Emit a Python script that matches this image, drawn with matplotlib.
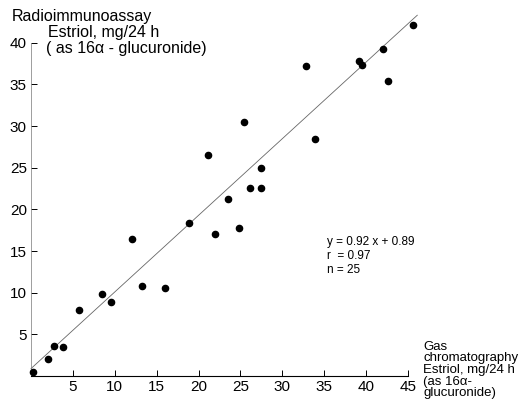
import numpy as np
import matplotlib
matplotlib.use("Agg")
import matplotlib.pyplot as plt

plt.rcParams['font.family'] = ['Liberation Sans', 'DejaVu Sans']

# gas chromatography (x) vs radioimmunoassay (y), mg/24 h
gc_values = [0.2, 2.0, 2.8, 3.8, 5.7, 8.5, 9.6, 12.0, 13.3, 16.0, 18.9, 21.9, 24.8,
             21.1, 25.4, 23.5, 26.1, 27.4, 27.5, 32.8, 33.9, 39.2, 39.5, 42.0, 42.6, 45.6]
ria_values = [0.5, 2.0, 3.6, 3.5, 7.9, 9.9, 8.9, 16.4, 10.8, 10.6, 18.4, 17.0, 17.8,
              26.5, 30.5, 21.3, 22.6, 22.6, 25.0, 37.2, 28.4, 37.8, 37.3, 39.3, 35.4, 42.1]
slope, intercept = 0.92, 0.89
x_ticks = [5, 10, 15, 20, 25, 30, 35, 40, 45]
y_ticks = [5, 10, 15, 20, 25, 30, 35, 40]

fig = plt.figure(figsize=(5.23, 4.03), dpi=100)
ax = fig.add_axes([0.0593, 0.067, 0.753, 0.889])

# regression line
fit_x = np.array([0, 46.1])
ax.plot(fit_x, slope * fit_x + intercept, color='#666666', lw=0.6, clip_on=False)

ax.scatter(gc_values, ria_values, s=20, color='black', zorder=3, clip_on=False)

ax.set_xlim(0, 47)
ax.set_ylim(0, 43)
ax.set_xticks(x_ticks)
ax.set_yticks(y_ticks)
ax.tick_params(direction='in', length=4, width=0.7, labelsize=11, pad=3)
ax.spines['top'].set_visible(False)
ax.spines['right'].set_visible(False)
ax.spines['bottom'].set_bounds(0, 45)
ax.spines['left'].set_bounds(0, 40)
ax.spines['bottom'].set_linewidth(0.8)
ax.spines['left'].set_linewidth(0.5)
ax.spines['left'].set_color('#777777')

fig.text(12 / 523, 1 - 17 / 403, 'Radioimmunoassay', fontsize=11.5, va='center')
fig.text(48 / 523, 1 - 32 / 403, 'Estriol, mg/24 h', fontsize=11.5, va='center')
fig.text(46 / 523, 1 - 48 / 403, '( as 16\u03b1 - glucuronide)', fontsize=11.5, va='center')

fig.text(423 / 523, 1 - 370 / 403,
         'Gas\nchromatography\nEstriol, mg/24 h\n(as 16\u03b1-\nglucuronide)',
         fontsize=9.5, va='center', linespacing=0.95)

fig.text(327 / 523, 1 - 256 / 403,
         'y = 0.92 x + 0.89\nr  = 0.97\nn = 25',
         fontsize=8.5, va='center', linespacing=1.25)

fig.savefig('out.png', dpi=100)
